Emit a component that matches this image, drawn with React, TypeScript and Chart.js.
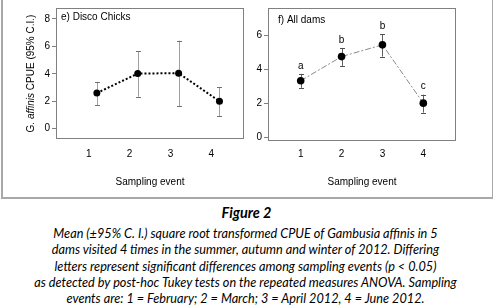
import React, { useEffect, useRef } from "react";
import { Chart, registerables } from "chart.js";
Chart.register(...registerables);

// ---- Data ----
const xTickValues = [1, 2, 3, 4];

// e) Disco Chicks (points plotted slightly offset from the event ticks)
const discoX = [1.2, 2.2, 3.2, 4.2];
const discoMean = [2.6, 4.02, 4.05, 2.0];
const discoLower = [1.7, 2.33, 1.63, 0.9];
const discoUpper = [3.42, 5.65, 6.42, 3.03];
const discoYTicks = [0, 2, 4, 6, 8];

// f) All dams
const allX = [1, 2, 3, 4];
const allMean = [3.32, 4.74, 5.43, 2.0];
const allLower = [2.9, 4.19, 4.74, 1.44];
const allUpper = [3.72, 5.24, 6.06, 2.5];
const allLetters = ["a", "b", "b", "c"];
const allYTicks = [0, 2, 4, 6];

const FONT = "'Liberation Sans', Arial, sans-serif";

type PanelCfg = {
  label: string;
  labelX: number;
  labelY: number;
  xs: number[];
  mean: number[];
  lower: number[];
  upper: number[];
  letters?: string[];
  yTicks: number[];
  yMin: number;
  yMax: number;
  yWidth: number;
  xHeight: number;
  padTop: number;
  padRight: number;
  xTickPad: number;
  xTitlePad: number;
  yTitle?: boolean;
  lineColor: string;
  lineWidth: number;
  lineDash: number[];
  barColor: string;
  capColor: string;
  pointRadius: number;
};

function makePlugin(cfg: PanelCfg) {
  return {
    id: "panelDecor",
    beforeDatasetsDraw(chart: any) {
      const { ctx, chartArea } = chart;
      const xs = chart.scales.x;
      const ys = chart.scales.y;
      ctx.save();
      ctx.strokeStyle = "#808080";
      ctx.lineWidth = 1;
      const l = Math.round(chartArea.left) + 0.5;
      const t = Math.round(chartArea.top) + 0.5;
      const r = Math.round(chartArea.right) - 0.5;
      const b = Math.round(chartArea.bottom) - 0.5;
      ctx.strokeRect(l, t, r - l, b - t);
      cfg.xs.forEach((x, i) => {
        const px = Math.round(xs.getPixelForValue(x)) + 0.5;
        const pl = ys.getPixelForValue(cfg.lower[i]);
        const pu = ys.getPixelForValue(cfg.upper[i]);
        ctx.strokeStyle = cfg.barColor;
        ctx.beginPath();
        ctx.moveTo(px, pl);
        ctx.lineTo(px, pu);
        ctx.stroke();
        ctx.strokeStyle = cfg.capColor;
        ctx.beginPath();
        ctx.moveTo(px - 2.5, Math.round(pl) + 0.5);
        ctx.lineTo(px + 2.5, Math.round(pl) + 0.5);
        ctx.moveTo(px - 2.5, Math.round(pu) + 0.5);
        ctx.lineTo(px + 2.5, Math.round(pu) + 0.5);
        ctx.stroke();
      });
      ctx.restore();
    },
    afterDatasetsDraw(chart: any) {
      const { ctx } = chart;
      const xs = chart.scales.x;
      const ys = chart.scales.y;
      ctx.save();
      ctx.fillStyle = "#000";
      ctx.font = `10px ${FONT}`;
      ctx.textBaseline = "middle";
      ctx.textAlign = "left";
      ctx.fillText(cfg.label, cfg.labelX, cfg.labelY);
      if (cfg.letters) {
        ctx.textAlign = "center";
        cfg.letters.forEach((lt, i) => {
          const px = xs.getPixelForValue(cfg.xs[i]);
          const pu = ys.getPixelForValue(cfg.upper[i]);
          ctx.fillText(lt, px, pu - 8);
        });
      }
      if (cfg.yTitle) {
        const parts = [
          { t: "G. ", f: `10px ${FONT}` },
          { t: "affinis", f: `italic 10px ${FONT}` },
          { t: " CPUE (95% C.I.)", f: `10px ${FONT}` },
        ];
        let total = 0;
        parts.forEach((p) => {
          ctx.font = p.f;
          total += ctx.measureText(p.t).width;
        });
        const cy = (chart.chartArea.top + chart.chartArea.bottom) / 2;
        ctx.translate(31, cy);
        ctx.rotate(-Math.PI / 2);
        ctx.textAlign = "left";
        let x = -total / 2;
        parts.forEach((p) => {
          ctx.font = p.f;
          ctx.fillText(p.t, x, 0);
          x += ctx.measureText(p.t).width;
        });
      }
      ctx.restore();
    },
  };
}

function Panel({ cfg, style, width, height }: { cfg: PanelCfg; style: any; width: number; height: number }) {
  const ref = useRef<HTMLCanvasElement>(null);
  useEffect(() => {
    if (!ref.current) return;
    const tickFont = { size: 10, family: FONT };
    const chart = new Chart(ref.current, {
      type: "line",
      data: {
        datasets: [
          {
            data: cfg.xs.map((x, i) => ({ x, y: cfg.mean[i] })),
            borderColor: cfg.lineColor,
            borderWidth: cfg.lineWidth,
            borderDash: cfg.lineDash,
            pointRadius: cfg.pointRadius,
            pointBackgroundColor: "#000",
            pointBorderColor: "#000",
            pointBorderWidth: 0,
            tension: 0,
            fill: false,
          },
        ],
      },
      options: {
        responsive: false,
        animation: false,
        events: [],
        layout: { padding: { top: cfg.padTop, right: cfg.padRight, left: 0, bottom: 0 } },
        plugins: { legend: { display: false }, tooltip: { enabled: false } },
        scales: {
          x: {
            type: "linear",
            min: 0.2,
            max: 4.8,
            afterBuildTicks: (s: any) => {
              s.ticks = xTickValues.map((v) => ({ value: v }));
            },
            afterFit: (s: any) => {
              s.height = cfg.xHeight;
            },
            grid: { display: false, drawTicks: false },
            border: { display: false },
            ticks: { padding: cfg.xTickPad, color: "#000", font: tickFont, maxRotation: 0 },
            title: {
              display: true,
              text: "Sampling event",
              color: "#000",
              font: tickFont,
              padding: { top: 0, bottom: cfg.xTitlePad },
            },
          },
          y: {
            type: "linear",
            min: cfg.yMin,
            max: cfg.yMax,
            afterBuildTicks: (s: any) => {
              s.ticks = cfg.yTicks.map((v) => ({ value: v }));
            },
            afterFit: (s: any) => {
              s.width = cfg.yWidth;
            },
            grid: { drawOnChartArea: false, drawTicks: true, tickLength: 4, color: "#808080" },
            border: { display: false },
            ticks: { padding: 2, color: "#000", font: tickFont },
          },
        },
      } as any,
      plugins: [makePlugin(cfg)],
    });
    return () => chart.destroy();
  }, []);
  return <canvas ref={ref} width={width} height={height} style={{ position: "absolute", ...style }} />;
}

const discoCfg: PanelCfg = {
  label: "e) Disco Chicks",
  labelX: 61,
  labelY: 17.5,
  xs: discoX,
  mean: discoMean,
  lower: discoLower,
  upper: discoUpper,
  yTicks: discoYTicks,
  yMin: -0.75,
  yMax: 8.8,
  yWidth: 56,
  xHeight: 57,
  padTop: 5,
  padRight: 6,
  xTickPad: 9,
  xTitlePad: 8,
  yTitle: true,
  lineColor: "#000",
  lineWidth: 2,
  lineDash: [2, 2],
  barColor: "#a0a0a0",
  capColor: "#707070",
  pointRadius: 3.5,
};

const allCfg: PanelCfg = {
  label: "f) All dams",
  labelX: 35,
  labelY: 20,
  xs: allX,
  mean: allMean,
  lower: allLower,
  upper: allUpper,
  letters: allLetters,
  yTicks: allYTicks,
  yMin: -0.2,
  yMax: 7.6,
  yWidth: 25,
  xHeight: 55.5,
  padTop: 6.5,
  padRight: 36,
  xTickPad: 7.5,
  xTitlePad: 7.3,
  lineColor: "#8a8a8a",
  lineWidth: 1,
  lineDash: [6, 2, 2, 2],
  barColor: "#606060",
  capColor: "#505050",
  pointRadius: 3.8,
};

const captionLines = [
  "Mean (±95% C. I.) square root transformed CPUE of Gambusia affinis in 5",
  "dams visited 4 times in the summer, autumn and winter of 2012. Differing",
  "letters represent significant differences among sampling events (p < 0.05)",
  "as detected by post-hoc Tukey tests on the repeated measures ANOVA. Sampling",
  "events are: 1 = February; 2 = March; 3 = April 2012, 4 = June 2012.",
];

export default function App() {
  return (
    <div
      style={{
        position: "absolute",
        left: 0,
        top: 0,
        width: 493,
        height: 305,
        background: "#fff",
        overflow: "hidden",
      }}
    >
      <div
        style={{
          position: "absolute",
          left: 1,
          top: -5,
          width: 489,
          height: 200,
          border: "2px solid #a8a8a8",
        }}
      />
      <Panel cfg={discoCfg} width={250} height={196} style={{ left: 0, top: 0 }} />
      <Panel cfg={allCfg} width={249} height={196} style={{ left: 243, top: 0 }} />
      <div
        style={{
          position: "absolute",
          left: 0,
          top: 205,
          width: 493,
          textAlign: "center",
          fontFamily: "Lato, 'Open Sans', sans-serif",
          fontStyle: "italic",
          fontWeight: 700,
          fontSize: 14.5,
          lineHeight: "16px",
          color: "#000",
        }}
      >
        Figure 2
      </div>
      <div
        style={{
          position: "absolute",
          left: 0,
          top: 225,
          width: 491,
          textAlign: "center",
          fontFamily: "Lato, 'Open Sans', sans-serif",
          fontStyle: "italic",
          fontSize: 12.7,
          lineHeight: "16.3px",
          color: "#000",
          whiteSpace: "nowrap",
        }}
      >
        {captionLines.map((l, i) => (
          <div key={i}>{l}</div>
        ))}
      </div>
    </div>
  );
}
